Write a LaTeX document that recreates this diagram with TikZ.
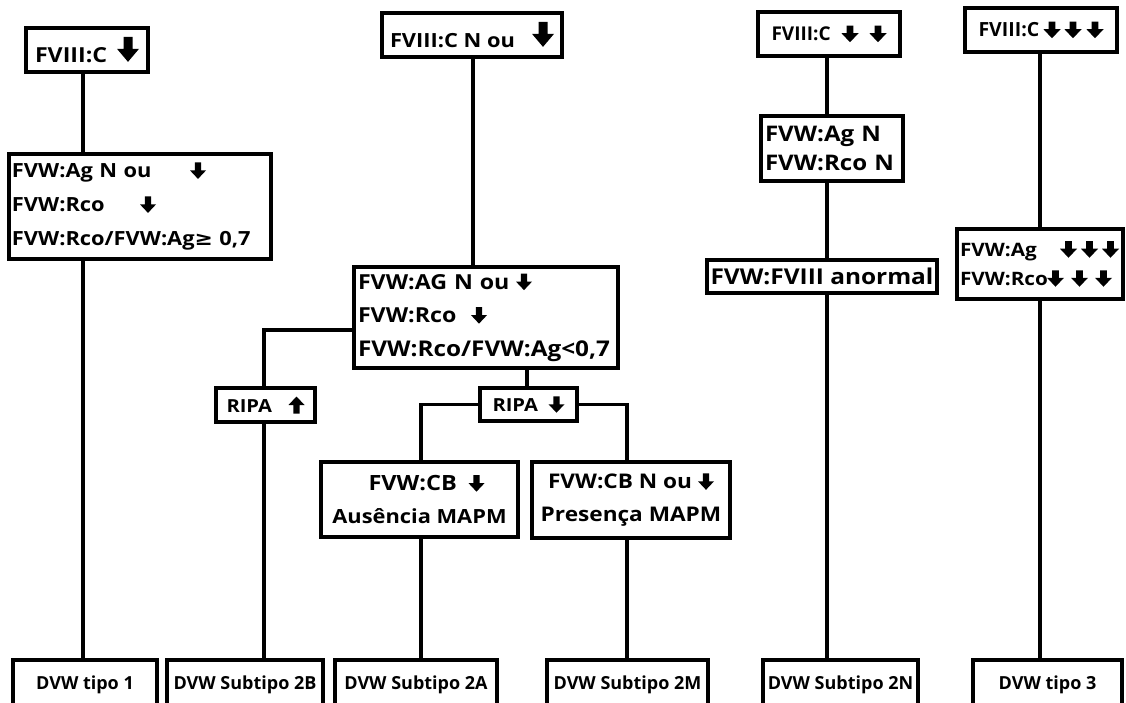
\documentclass[tikz,border=0pt]{standalone}
\usepackage{fontspec}
\setmainfont{Open Sans}
\newfontfamily\wfont[FakeStretch=1.12]{Open Sans}
\newfontfamily\djv[FakeStretch=1.12]{DejaVu Sans}
\newcommand\dnA{\tikz[baseline=0pt,x=1pt,y=1pt]\fill[black] (-3.2,15.5) -- (3.2,15.5) -- (3.2,7.5) -- (8,7.5) -- (0,-1) -- (-8,7.5) -- (-3.2,7.5) -- cycle;}
\newcommand\dnC{\tikz[baseline=0pt,x=1pt,y=1pt]\fill[black] (-3.3,15) -- (3.3,15) -- (3.3,7.5) -- (8.5,7.5) -- (0,-1.5) -- (-8.5,7.5) -- (-3.3,7.5) -- cycle;}
\newcommand\upA{\tikz[baseline=0pt,x=1pt,y=1pt]\fill[black] (-3.2,-1) -- (3.2,-1) -- (3.2,7.5) -- (8,7.5) -- (0,16) -- (-8,7.5) -- (-3.2,7.5) -- cycle;}
\newcommand\dnB{\tikz[baseline=-3pt,x=1pt,y=1pt]\fill[black] (-4.5,23) -- (4.5,23) -- (4.5,11) -- (11,11) -- (0,-2) -- (-11,11) -- (-4.5,11) -- cycle;}
\newcommand\at[2]{\makebox[#1][l]{#2}}
\newcommand\fs[2]{\wfont\bfseries\fontsize{#1}{#2}\selectfont}
\newcommand\ns[2]{\bfseries\fontsize{#1}{#2}\selectfont}
\begin{document}
\begin{tikzpicture}[x=1pt,y=-1pt,
  box/.style={draw=black,line width=3.5pt,rectangle,inner sep=0pt,
    font=\fs{19.5}{24}},
  lbox/.style={box,align=left},
  cbox/.style={box,align=center},
  bot/.style={box,minimum height=50pt,font=\ns{18}{22}},
  ln/.style={line width=3.5pt,line join=miter}]
\useasboundingbox (0,0) rectangle (1126,703);
\fill[white] (0,0) rectangle (1126,703);
\clip (0,0) rectangle (1126,703);

% column 1
\node[box,minimum width=122pt,minimum height=44pt,font=\fs{20.7}{24}] (A1) at (87,50)
  {\at{82pt}{FVIII:C}\dnB};
\node[lbox,minimum width=262pt,minimum height=105pt,text width=256pt,
  font=\fs{19.5}{34}] (A2) at (140,206.5)
  {\at{178pt}{FVW:Ag N ou}\dnA\\\at{128pt}{FVW:Rco}\dnA\\FVW:Rco/FVW:Ag{\djv ≥} 0,7};
\node[bot,minimum width=144pt] (B1) at (85,685) {DVW tipo 1};

% column 2
\node[box,minimum width=180pt,minimum height=44pt,font=\fs{19.5}{24}] (C1) at (472,35)
  {\at{142pt}{FVIII:C N ou}\dnB};
\node[lbox,minimum width=264pt,minimum height=101pt,text width=256pt,
  font=\fs{20.7}{33.5}] (C2) at (486,317.5)
  {\at{158pt}{FVW:AG N ou}\dnA\\\at{113pt}{FVW:Rco}\dnA\\{\fontsize{21.7}{33.5}\selectfont FVW:Rco/FVW:Ag<0,7}};
\node[box,minimum width=99pt,minimum height=34pt,font=\fs{18}{24}] (R1) at (265.5,405)
  {\at{62pt}{RIPA}\upA};
\node[box,minimum width=97pt,minimum height=33pt,font=\fs{18}{24}] (R2) at (528.5,404.5)
  {\at{56pt}{RIPA}\dnA};
\node[cbox,minimum width=197pt,minimum height=75pt,font=\fs{19.5}{33}] (D1) at (419.5,499.5)
  {\hspace*{14pt}\at{100pt}{{\fontsize{21}{33}\selectfont FVW:CB}}\dnA\\Ausência MAPM};
\node[cbox,minimum width=198pt,minimum height=76pt,font=\fs{20.2}{33}] (D2) at (631,500)
  {\at{150pt}{FVW:CB N ou}\dnA\\Presença MAPM};
\node[bot,minimum width=156pt] (B2) at (245,685) {DVW Subtipo 2B};
\node[bot,minimum width=162pt] (B3) at (416,685) {DVW Subtipo 2A};
\node[bot,minimum width=161pt] (B4) at (627.5,685) {DVW Subtipo 2M};

% column 3
\node[box,minimum width=142pt,minimum height=44pt,font=\ns{19}{24}] (E1) at (829,34)
  {\at{70pt}{FVIII:C}\at{28pt}{\dnC}\dnC};
\node[lbox,minimum width=142pt,minimum height=65pt,text width=134pt,
  font=\fs{21.5}{29}] (E2) at (832,148.5) {FVW:Ag N\\FVW:Rco N};
\node[box,minimum width=230pt,minimum height=33pt,font=\fs{21.8}{24}] (E3) at (822,276.5) {FVW:FVIII anormal};
\node[bot,minimum width=155pt] (B5) at (840.5,685) {DVW Subtipo 2N};

% column 4
\node[box,minimum width=152pt,minimum height=44pt,font=\ns{19.5}{24}] (F1) at (1041,30)
  {\at{65pt}{FVIII:C}\at{21pt}{\dnC}\at{22pt}{\dnC}\dnC};
\node[lbox,minimum width=166pt,minimum height=70pt,text width=160pt,
  font=\fs{18.5}{29}] (F2) at (1040,264)
  {\at{100pt}{FVW:Ag}\at{21pt}{\dnC}\at{21pt}{\dnC}\dnC\\
   \at{87pt}{FVW:Rco}\at{24pt}{\dnC}\at{24pt}{\dnC}\dnC};
\node[bot,minimum width=149pt] (B6) at (1047.5,685) {DVW tipo 3};

% connector x positions
\coordinate (x1) at (83,0);
\coordinate (xc1) at (473,0);
\coordinate (xc2) at (527,0);
\coordinate (xr1) at (264,0);
\coordinate (xd1) at (421,0);
\coordinate (xd2) at (627,0);
\coordinate (xe) at (827,0);
\coordinate (xf) at (1040,0);
\coordinate (yb) at (0,330);

\draw[ln] (A1.south -| x1) -- (A2.north -| x1);
\draw[ln] (A2.south -| x1) -- (B1.north -| x1);

\draw[ln] (C1.south -| xc1) -- (C2.north -| xc1);
\draw[ln] (C2.west |- yb) -| (R1.north -| xr1);
\draw[ln] (R1.south -| xr1) -- (B2.north -| xr1);
\draw[ln] (C2.south -| xc2) -- (R2.north -| xc2);
\draw[ln] (R2.west) -| (D1.north -| xd1);
\draw[ln] (R2.east) -| (D2.north -| xd2);
\draw[ln] (D1.south -| xd1) -- (B3.north -| xd1);
\draw[ln] (D2.south -| xd2) -- (B4.north -| xd2);

\draw[ln] (E1.south -| xe) -- (E2.north -| xe);
\draw[ln] (E2.south -| xe) -- (E3.north -| xe);
\draw[ln] (E3.south -| xe) -- (B5.north -| xe);

\draw[ln] (F1.south -| xf) -- (F2.north -| xf);
\draw[ln] (F2.south -| xf) -- (B6.north -| xf);
\end{tikzpicture}
\end{document}
